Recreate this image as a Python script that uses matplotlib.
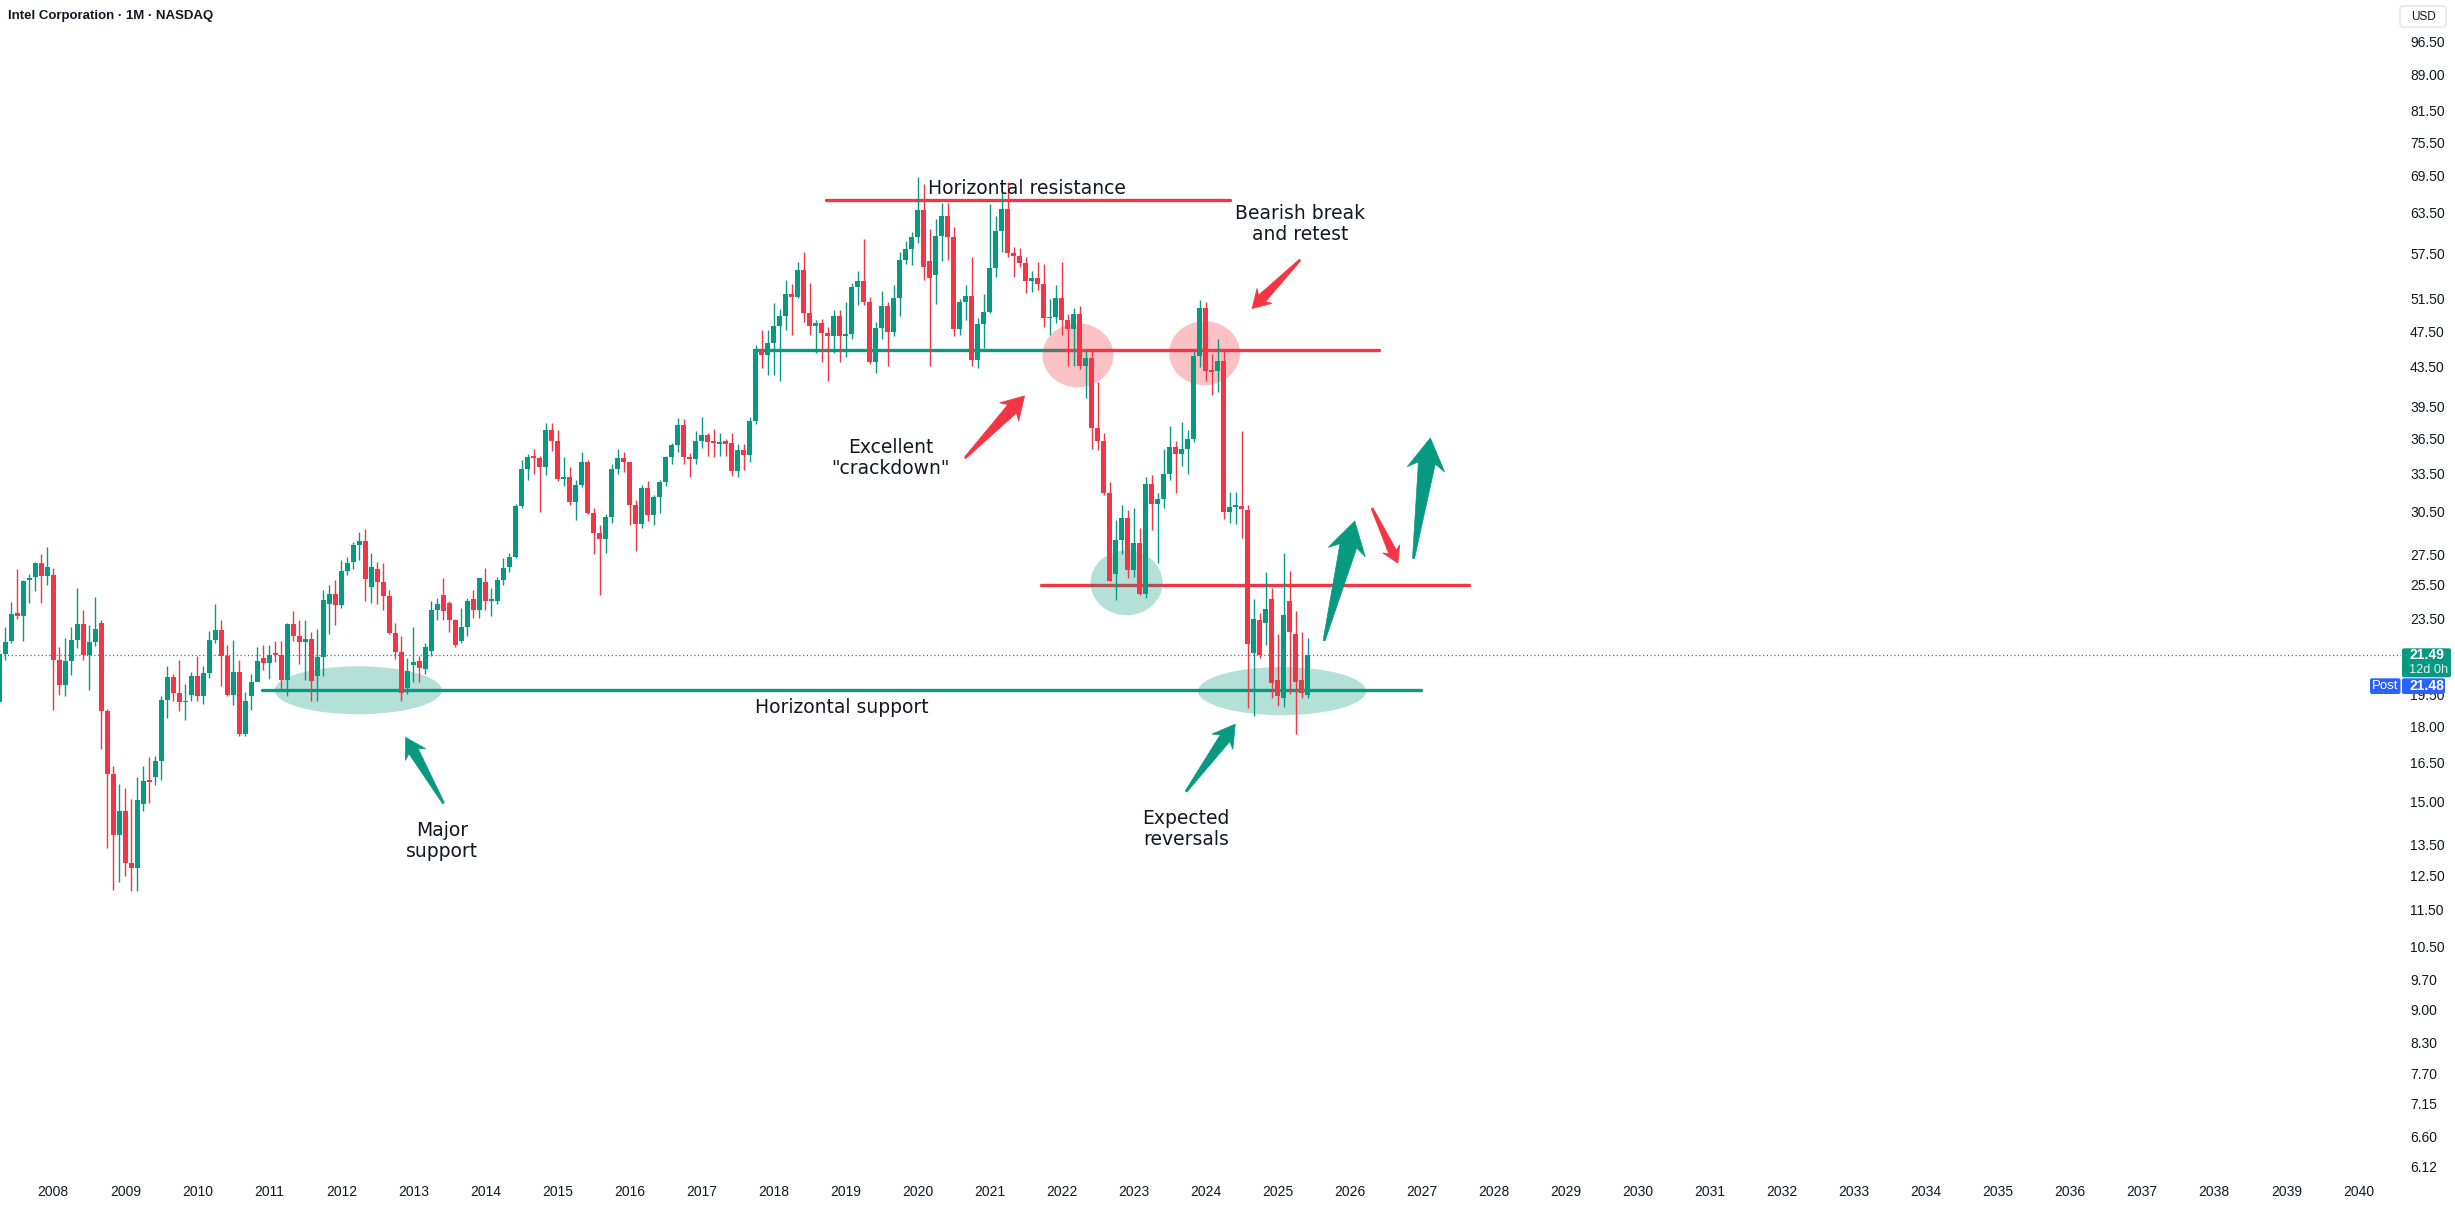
import numpy as np
import matplotlib.pyplot as plt
from matplotlib.patches import Ellipse, Polygon, FancyBboxPatch
from matplotlib.transforms import IdentityTransform

# Intel monthly candles, Apr 2007 .. Jun 2025 (month index 0 = Jan 2008)
first_month = -9

opens = [
    19.13, 21.50, 22.20, 23.80, 23.65, 25.80, 25.99, 26.90, 26.08,                   # 2007
    26.10, 21.20, 19.95, 21.18, 22.26, 23.18, 21.48, 22.19, 23.20, 18.73, 16.03, 13.80,  # 2008
    14.66, 12.90, 12.74, 14.90, 15.78, 15.90, 16.55, 19.25, 20.32, 19.57, 19.11, 19.45,  # 2009
    20.40, 19.40, 20.53, 22.29, 22.83, 21.42, 19.45, 20.60, 17.67, 19.40, 20.08, 21.30,  # 2010
    21.03, 21.55, 21.47, 20.18, 23.19, 22.51, 22.16, 22.33, 20.40, 21.34, 24.30, 24.91,  # 2011
    24.25, 26.41, 27.00, 28.12, 28.40, 25.35, 26.50, 25.70, 24.84, 22.66, 21.62, 19.80,  # 2012
    20.95, 21.15, 20.75, 21.70, 23.95, 24.90, 24.40, 23.40, 22.20, 23.00, 24.60, 24.00,  # 2013
    25.70, 24.50, 24.50, 25.80, 26.65, 27.30, 30.90, 33.89, 34.92, 34.82, 34.01, 37.25,  # 2014
    36.29, 33.04, 33.25, 31.27, 32.55, 34.45, 30.41, 28.95, 28.54, 30.14, 33.86, 34.77,  # 2015
    34.45, 31.02, 29.58, 32.35, 30.28, 31.59, 32.80, 34.86, 35.89, 37.75, 34.87, 34.70,  # 2016
    36.27, 36.82, 36.20, 36.07, 36.15, 36.11, 33.74, 35.47, 35.07, 38.08, 45.49, 44.84,  # 2017
    46.16, 48.14, 49.29, 52.08, 51.62, 55.20, 49.71, 48.10, 48.43, 47.29, 46.88, 49.31,  # 2018
    46.93, 47.12, 52.96, 53.70, 51.04, 44.04, 47.87, 50.55, 47.41, 51.53, 56.53, 58.05,  # 2019
    59.85, 63.93, 56.40, 54.50, 59.98, 62.93, 59.83, 47.73, 50.95, 51.78, 44.28, 48.35,  # 2020
    49.82, 55.51, 60.78, 64.00, 57.52, 57.12, 56.14, 53.72, 54.06, 53.28, 49.00, 49.20,  # 2021
    51.50, 48.82, 47.70, 49.56, 43.59, 44.42, 37.41, 36.31, 31.91, 26.20, 28.43, 30.07,  # 2022
    26.43, 28.26, 24.93, 32.67, 31.06, 31.44, 33.44, 35.77, 35.14, 35.55, 36.50, 44.70,  # 2023
    50.25, 43.08, 43.05, 44.17, 30.47, 30.85, 30.97, 30.60, 21.60, 23.40, 23.20, 24.60,  # 2024
    20.20, 19.30, 24.50, 22.60, 20.20, 19.45,                                            # 2025
]
highs = [
    21.77, 23.00, 24.45, 26.52, 25.80, 26.20, 27.00, 27.50, 28.00,
    26.60, 21.90, 22.40, 23.00, 25.30, 24.00, 23.10, 24.75, 23.40, 18.80, 16.36, 15.65,
    15.50, 15.10, 15.90, 16.35, 16.70, 16.75, 19.40, 20.90, 20.50, 21.20, 20.00, 20.60,
    21.40, 20.90, 22.75, 24.30, 23.40, 22.00, 22.30, 21.20, 19.60, 20.50, 21.90, 22.00,
    22.00, 22.20, 22.20, 23.20, 23.90, 23.40, 23.40, 22.70, 22.90, 25.20, 25.50, 25.80,
    27.10, 27.30, 28.30, 29.00, 29.27, 27.60, 27.00, 26.90, 25.20, 23.20, 22.50, 21.30,
    23.00, 21.40, 22.10, 24.50, 24.70, 25.90, 24.50, 23.45, 24.10, 24.70, 25.20, 25.95,
    26.60, 25.30, 26.00, 27.20, 27.60, 31.10, 34.60, 35.10, 35.60, 35.00, 37.90, 37.90,
    37.30, 34.90, 34.00, 33.00, 35.30, 34.60, 30.80, 29.50, 30.30, 34.30, 35.60, 35.30,
    34.50, 31.40, 32.60, 32.90, 31.80, 33.00, 35.00, 36.10, 38.40, 38.30, 35.20, 37.20,
    38.50, 37.00, 37.40, 37.00, 36.50, 37.00, 36.00, 36.00, 38.50, 45.90, 47.60, 47.60,
    50.85, 50.20, 53.80, 53.30, 56.20, 57.60, 53.40, 48.80, 48.90, 48.00, 50.00, 50.00,
    51.00, 53.50, 55.00, 59.60, 51.70, 48.60, 52.40, 51.00, 53.20, 57.60, 59.30, 60.50,
    69.29, 68.10, 61.00, 62.50, 65.10, 65.10, 61.30, 51.40, 53.20, 57.00, 49.00, 52.00,
    64.88, 63.00, 67.00, 68.49, 58.40, 58.30, 57.00, 55.00, 56.30, 56.00, 51.40, 53.20,
    56.28, 49.50, 50.30, 50.50, 45.50, 45.50, 41.90, 37.00, 32.80, 29.90, 31.00, 30.60,
    30.80, 29.30, 33.20, 33.40, 31.90, 35.60, 37.60, 36.30, 38.00, 37.30, 45.20, 51.28,
    51.00, 44.90, 46.60, 45.40, 32.00, 32.00, 37.16, 31.00, 24.60, 23.80, 26.30, 25.30,
    22.60, 27.55, 26.40, 23.90, 22.70, 22.40,
]
lows = [
    19.05, 21.20, 22.10, 23.45, 22.20, 24.40, 25.10, 24.40, 25.50,
    18.75, 19.45, 19.40, 20.46, 21.85, 21.20, 19.70, 21.95, 17.06, 13.37, 12.06, 12.30,
    12.50, 12.05, 12.05, 14.65, 14.95, 15.60, 15.80, 18.40, 19.20, 18.70, 18.30, 19.20,
    19.20, 19.05, 20.30, 22.10, 19.90, 19.40, 19.00, 17.60, 17.60, 18.75, 20.20, 20.70,
    20.25, 21.10, 19.70, 19.40, 22.20, 21.00, 20.20, 19.20, 19.20, 20.40, 22.60, 23.10,
    24.10, 26.10, 26.50, 27.10, 24.50, 24.40, 24.30, 24.00, 22.60, 21.25, 19.20, 19.50,
    20.10, 20.10, 20.50, 21.40, 23.40, 23.40, 22.70, 21.90, 22.10, 22.50, 23.50, 23.50,
    24.00, 23.60, 24.30, 25.50, 26.30, 27.20, 30.80, 33.00, 33.50, 30.50, 33.40, 35.40,
    32.90, 32.50, 31.00, 29.90, 32.40, 30.30, 27.50, 24.87, 27.60, 29.70, 33.50, 33.60,
    29.50, 27.70, 29.30, 29.80, 29.50, 30.40, 32.50, 34.30, 35.30, 34.30, 33.20, 34.30,
    35.70, 35.00, 34.90, 35.00, 35.00, 33.30, 33.20, 33.80, 34.50, 37.80, 43.40, 42.70,
    42.70, 42.04, 47.60, 47.00, 51.50, 48.60, 47.00, 45.00, 44.00, 42.00, 45.00, 44.00,
    44.60, 46.60, 50.60, 50.60, 43.80, 42.90, 46.60, 43.60, 46.90, 49.30, 56.00, 55.90,
    59.00, 53.80, 43.63, 50.70, 56.40, 56.50, 46.97, 47.00, 48.80, 43.60, 43.40, 45.60,
    49.60, 54.20, 57.70, 56.90, 54.20, 55.60, 52.20, 52.30, 52.50, 48.00, 47.00, 48.40,
    47.00, 43.60, 43.60, 43.30, 40.30, 35.60, 35.50, 31.80, 25.77, 24.59, 27.50, 25.90,
    26.00, 24.90, 24.70, 29.20, 26.90, 30.80, 33.00, 31.90, 34.10, 33.50, 36.20, 43.50,
    42.00, 40.60, 40.90, 30.00, 29.70, 29.60, 28.60, 18.84, 18.50, 21.30, 22.00, 19.30,
    18.95, 18.90, 19.50, 17.67, 19.30, 19.30,
]
closes = [
    21.50, 22.17, 23.74, 23.62, 25.75, 25.86, 26.90, 26.08, 26.66,
    21.20, 19.95, 21.18, 22.26, 23.18, 21.48, 22.19, 22.87, 18.73, 16.03, 13.80, 14.66,
    12.90, 12.74, 15.03, 15.78, 15.72, 16.55, 19.25, 20.32, 19.57, 19.11, 19.20, 20.40,
    19.40, 20.53, 22.29, 22.83, 21.42, 19.45, 20.60, 17.67, 19.20, 20.08, 21.18, 21.03,
    21.46, 21.47, 20.18, 23.19, 22.51, 22.16, 22.33, 20.12, 21.34, 24.54, 24.91, 24.25,
    26.41, 26.88, 28.12, 28.40, 25.84, 26.65, 25.70, 24.84, 22.66, 21.62, 19.57, 20.62,
    21.10, 20.80, 21.90, 24.00, 24.30, 23.90, 23.40, 22.00, 23.00, 24.50, 23.95, 25.90,
    24.50, 24.60, 25.80, 26.60, 27.30, 30.90, 33.89, 34.92, 34.82, 34.01, 37.25, 36.29,
    33.04, 33.25, 31.27, 32.55, 34.45, 30.41, 28.95, 28.54, 30.14, 33.86, 34.77, 34.45,
    31.02, 29.58, 32.35, 30.28, 31.59, 32.80, 34.86, 35.89, 37.75, 34.87, 34.70, 36.27,
    36.82, 36.20, 36.07, 36.15, 36.11, 33.74, 35.47, 35.07, 38.08, 45.49, 44.84, 46.16,
    48.14, 49.29, 52.08, 51.62, 55.20, 49.71, 48.10, 48.43, 47.29, 46.88, 49.31, 46.93,
    47.12, 52.96, 53.70, 51.04, 44.04, 47.87, 50.55, 47.41, 51.53, 56.53, 58.05, 59.85,
    63.93, 55.52, 54.12, 59.98, 62.93, 59.83, 47.73, 50.95, 51.78, 44.28, 48.35, 49.82,
    55.51, 60.78, 64.00, 57.52, 57.12, 56.14, 53.72, 54.06, 53.28, 49.00, 49.20, 51.50,
    48.82, 47.70, 49.56, 43.59, 44.42, 37.41, 36.31, 31.91, 25.77, 28.43, 30.07, 26.43,
    28.26, 24.93, 32.67, 31.06, 31.44, 33.44, 35.77, 35.14, 35.55, 36.50, 44.70, 50.25,
    43.08, 43.05, 44.17, 30.47, 30.85, 30.97, 30.74, 22.04, 23.43, 21.46, 24.05, 20.05,
    19.43, 23.70, 22.71, 20.10, 19.55, 21.49,
]

price_labels = ['96.50', '89.00', '81.50', '75.50', '69.50', '63.50', '57.50', '51.50',
                '47.50', '43.50', '39.50', '36.50', '33.50', '30.50', '27.50', '25.50',
                '23.50', '21.50', '19.50', '18.00', '16.50', '15.00', '13.50', '12.50',
                '11.50', '10.50', '9.70', '9.00', '8.30', '7.70', '7.15', '6.60', '6.12']
years = list(range(2008, 2041))

last_price = 21.49
post_price = 21.48
countdown = '12d 0h'

# drawn levels: (from month, to month, price, colour key)
levels = [
    (128.7, 196.0, 65.5, 'red'),     # horizontal resistance
    (116.7, 168.6, 45.4, 'green'),
    (168.6, 220.9, 45.4, 'red'),     # broken support -> resistance
    (164.5, 235.9, 25.5, 'red'),
    (34.75, 227.9, 19.72, 'green'),  # horizontal support
]
# highlight ellipses: (month, price, width px, height px, colour key)
zones = [
    (50.8, 19.69, 167, 48, 'green'),
    (204.7, 19.65, 168, 48, 'green'),
    (178.8, 25.63, 72, 65, 'green'),
    (170.7, 44.76, 71, 64, 'red'),
    (191.8, 45.00, 71, 64, 'red'),
]
# arrow markers: (tail month, tail price, tip month, tip price, colour key)
arrows = [
    (65.0, 14.93, 58.7, 17.54, 'green'),
    (151.9, 34.81, 161.8, 40.52, 'red'),
    (207.7, 56.55, 199.7, 50.20, 'red'),
    (188.7, 15.36, 196.9, 18.12, 'green'),
    (211.7, 22.24, 216.8, 29.82, 'green'),
    (219.7, 30.76, 224.0, 26.89, 'red'),
    (226.6, 27.21, 229.4, 36.55, 'green'),
]
notes = [
    ('Horizontal resistance', 162.2, 67.3),
    ('Bearish break\nand retest', 207.7, 61.75),
    ('Excellent\n"crackdown"', 139.5, 34.8),
    ('Major\nsupport', 64.8, 13.61),
    ('Expected\nreversals', 188.7, 14.01),
    ('Horizontal support', 131.3, 18.87),
]

UP = '#089981'
DOWN = '#f23645'
COL = {'green': UP, 'red': DOWN}
TXT = '#131722'

W, H = 2455, 1207
plt.rcParams['font.family'] = ['Liberation Sans', 'DejaVu Sans']

fig = plt.figure(figsize=(W / 100, H / 100), dpi=100)
fig.patch.set_facecolor('white')
ax = fig.add_axes([0, 29 / H, 2401 / W, 1178 / H])
ax.set_yscale('log')
ax.set_xlim(-8.876, 391.1)
ax.set_ylim(5.956, 106.96)
for s in ax.spines.values():
    s.set_visible(False)

# candles
o = np.array(opens)
hi = np.array(highs)
lo = np.array(lows)
c = np.array(closes)
x = np.arange(len(c)) + first_month
up = c >= o
cols = np.where(up, UP, DOWN)
body_lo = np.minimum(o, c)
body_hi = np.maximum(o, c)
thin = np.log(body_hi / body_lo) < 0.004
mid = np.sqrt(body_lo * body_hi)
body_lo = np.where(thin, mid * 0.998, body_lo)
body_hi = np.where(thin, mid * 1.003, body_hi)
ax.vlines(x, lo, hi, colors=cols, lw=1.0, zorder=3)
ax.bar(x, body_hi - body_lo, bottom=body_lo, width=0.82, color=cols,
       linewidth=0, zorder=3.5)

# last price dotted line
ax.axhline(last_price, color='#2962ff', lw=0.9, ls=(0, (1, 2)), zorder=1)

# ticks
ax.yaxis.tick_right()
ax.set_yticks([float(p) for p in price_labels])
ax.set_yticklabels(price_labels)
ax.yaxis.set_minor_locator(plt.NullLocator())
ax.set_xticks([(y - 2008) * 12 for y in years])
ax.set_xticklabels([str(y) for y in years])
ax.tick_params(axis='both', length=0, labelsize=10, labelcolor=TXT)
ax.tick_params(axis='y', pad=6.5)
ax.tick_params(axis='x', pad=5)

# drawings
for m0, m1, p, k in levels:
    ax.plot([m0, m1], [p, p], color=COL[k], lw=2.4, solid_capstyle='round', zorder=2)

for m, p, w, h, k in zones:
    cx, cy = ax.transData.transform((m, p))
    ax.add_patch(Ellipse((cx, cy), w, h, transform=IdentityTransform(),
                         facecolor=COL[k], alpha=0.3, edgecolor='none', zorder=2.5))


def arrow_marker(tail, tip, color):
    t = ax.transData.transform(tail)
    h = ax.transData.transform(tip)
    d = h - t
    length = np.hypot(*d)
    u = d / length
    v = np.array([-u[1], u[0]])
    head_len = 0.26 * length
    head_w = 0.31 * length
    neck_w = 0.45 * head_w
    tail_w = 2.0
    pts = [t + v * tail_w / 2,
           t + u * (length - head_len * 0.8) + v * neck_w / 2,
           t + u * (length - head_len) + v * head_w / 2,
           h,
           t + u * (length - head_len) - v * head_w / 2,
           t + u * (length - head_len * 0.8) - v * neck_w / 2,
           t - v * tail_w / 2]
    ax.add_patch(Polygon(pts, closed=True, transform=IdentityTransform(),
                         facecolor=color, edgecolor=color, lw=0.5, zorder=5))


for tm, tp, hm, hp, k in arrows:
    arrow_marker((tm, tp), (hm, hp), COL[k])

for s, m, p in notes:
    ax.text(m, p, s, ha='center', va='center', fontsize=13.5, color=TXT,
            family='DejaVu Sans', linespacing=1.1, zorder=6)

# header
fig.text(8 / W, 1 - 16 / H, 'Intel Corporation · 1M · NASDAQ', ha='left', va='center',
         fontsize=9.5, weight='bold', color=TXT)

# USD badge
fig.add_artist(FancyBboxPatch((2400, H - 27), 46, 21, boxstyle='round,pad=0,rounding_size=3',
                              transform=IdentityTransform(), facecolor='white',
                              edgecolor='#e0e3eb', lw=1, zorder=10))
fig.text(2423, H - 16.5, 'USD', transform=IdentityTransform(), ha='center', va='center',
         fontsize=8.5, color=TXT, zorder=11)

# price badges on the scale
yc = ax.transData.transform((0, last_price))[1]
fig.add_artist(FancyBboxPatch((2402, yc - 22.7), 49, 29, boxstyle='round,pad=0,rounding_size=2',
                              transform=IdentityTransform(), facecolor=UP, edgecolor='none',
                              zorder=10))
fig.text(2409, yc - 0.5, f'{last_price:.2f}', transform=IdentityTransform(), ha='left',
         va='center', fontsize=10, weight='bold', color='white', zorder=11)
fig.text(2409, yc - 15.5, countdown, transform=IdentityTransform(), ha='left',
         va='center', fontsize=9.2, color='white', alpha=0.85, zorder=11)
fig.add_artist(FancyBboxPatch((2370, yc - 39.4), 30.5, 15.7, boxstyle='round,pad=0,rounding_size=2',
                              transform=IdentityTransform(), facecolor='#2962ff', edgecolor='none',
                              zorder=10))
fig.add_artist(FancyBboxPatch((2402, yc - 39.4), 43, 15.7, boxstyle='round,pad=0,rounding_size=2',
                              transform=IdentityTransform(), facecolor='#2962ff', edgecolor='none',
                              zorder=10))
fig.text(2385.5, yc - 31.5, 'Post', transform=IdentityTransform(), ha='center',
         va='center', fontsize=9.5, color='white', zorder=11)
fig.text(2409, yc - 31.5, f'{post_price:.2f}', transform=IdentityTransform(), ha='left',
         va='center', fontsize=10, weight='bold', color='white', zorder=11)

fig.savefig('out.png', dpi=100)
